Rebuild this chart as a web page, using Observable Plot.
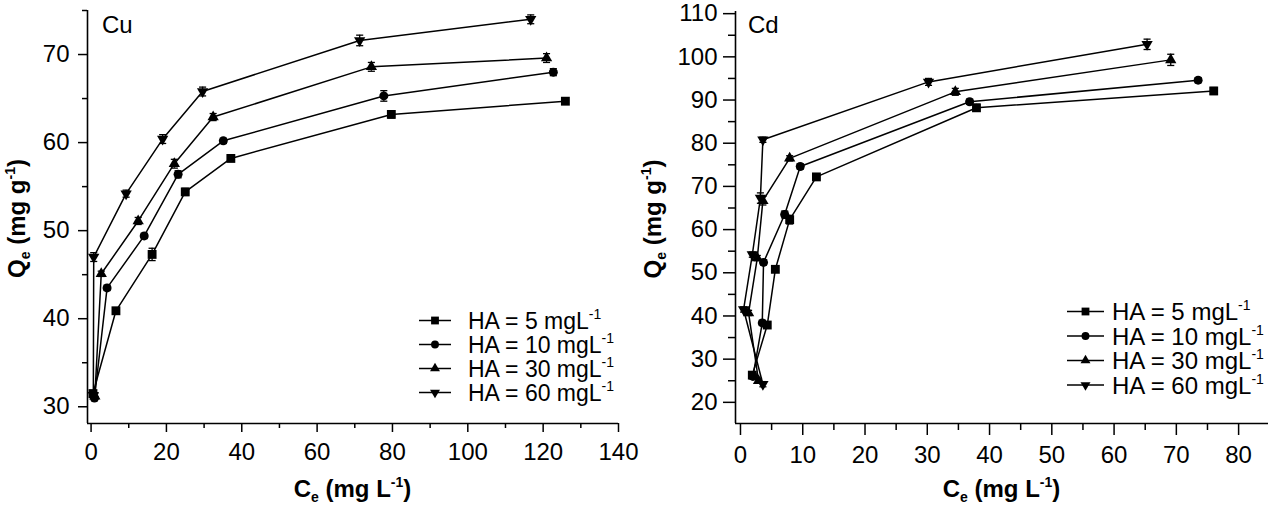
<!DOCTYPE html>
<html>
<head>
<meta charset="utf-8">
<script src="https://cdn.jsdelivr.net/npm/d3@7"></script>
<script src="https://cdn.jsdelivr.net/npm/@observablehq/plot@0.6"></script>
<style>
  html, body { margin: 0; padding: 0; background: #fff; }
  #wrap { position: relative; width: 1269px; height: 507px; overflow: hidden; background: #fff; }
  #wrap > div { position: absolute; top: 0; }
</style>
</head>
<body>
<div id="wrap"><div id="left" style="left:0px"></div><div id="right" style="left:640px"></div></div>
<script>
// ---------------- DATA ----------------
const haLevels = [5, 10, 30, 60];
const legendLabels = ["HA = 5 mgL", "HA = 10 mgL", "HA = 30 mgL", "HA = 60 mgL"];

// Cu panel
const cuCe5  = [0.5, 6.6, 16.2, 25.0, 37.1, 79.7, 125.9];
const cuQe5  = [31.5, 40.9, 47.3, 54.4, 58.2, 63.2, 64.7];
const cuErr5 = [0.3, 0.3, 0.7, 0.4, 0.3, 0.4, 0.3];
const cuCe10  = [0.9, 4.25, 14.1, 23.1, 35.1, 77.7, 122.7];
const cuQe10  = [31.0, 43.5, 49.4, 56.4, 60.2, 65.3, 68.0];
const cuErr10 = [0.3, 0.3, 0.3, 0.4, 0.3, 0.6, 0.4];
const cuCe30  = [1.0, 2.7, 12.5, 22.1, 32.4, 74.4, 120.9];
const cuQe30  = [31.2, 45.1, 51.1, 57.6, 62.9, 68.6, 69.6];
const cuErr30 = [0.3, 0.3, 0.4, 0.5, 0.4, 0.5, 0.5];
const cuCe60  = [0.6, 0.7, 9.3, 19.0, 29.6, 71.3, 116.7];
const cuQe60  = [31.3, 47.0, 54.2, 60.4, 65.8, 71.6, 74.0];
const cuErr60 = [0.3, 0.5, 0.4, 0.5, 0.5, 0.6, 0.5];

// Cd panel
const cdCe5  = [1.9, 4.3, 5.6, 7.9, 12.2, 37.9, 76.0];
const cdQe5  = [26.3, 37.9, 50.8, 62.3, 72.2, 88.2, 92.1];
const cdErr5 = [0.6, 0.6, 0.6, 1.0, 0.6, 0.8, 0.8];
const cdCe10  = [2.0, 3.5, 3.7, 7.1, 9.6, 36.8, 73.5];
const cdQe10  = [26.0, 38.4, 52.4, 63.5, 74.6, 89.6, 94.6];
const cdErr10 = [0.6, 0.6, 0.6, 0.8, 0.6, 0.6, 0.6];
const cdCe30  = [2.9, 1.3, 2.7, 3.6, 7.9, 34.5, 69.1];
const cdQe30  = [25.0, 40.7, 53.4, 66.7, 76.5, 91.9, 99.3];
const cdErr30 = [0.6, 0.6, 0.6, 1.0, 0.6, 0.8, 1.3];
const cdCe60  = [3.6, 0.5, 1.9, 3.2, 3.6, 30.2, 65.3];
const cdQe60  = [24.2, 41.5, 54.2, 67.3, 80.8, 94.2, 102.9];
const cdErr60 = [0.6, 0.6, 0.6, 1.2, 0.6, 0.8, 1.2];

// axis ticks
const cuXTicks = [0, 20, 40, 60, 80, 100, 120, 140];
const cuXMinor = [10, 30, 50, 70, 90, 110, 130];
const cuYTicks = [30, 40, 50, 60, 70];
const cuYMinor = [35, 45, 55, 65, 75];
const cdXTicks = [0, 10, 20, 30, 40, 50, 60, 70, 80];
const cdXMinor = [5, 15, 25, 35, 45, 55, 65, 75];
const cdYTicks = [20, 30, 40, 50, 60, 70, 80, 90, 100, 110];
const cdYMinor = [25, 35, 45, 55, 65, 75, 85, 95, 105];

// ---------------- HELPERS ----------------
const sqrt3 = Math.sqrt(3);
const triangleDown = {
  draw(ctx, size) {
    const y = -Math.sqrt(size / (sqrt3 * 3));
    ctx.moveTo(0, -y * 2);
    ctx.lineTo(-sqrt3 * y, y);
    ctx.lineTo(sqrt3 * y, y);
    ctx.closePath();
  }
};
const capSymbol = {
  draw(ctx, size) {
    const w = Math.sqrt(size) / 2;
    ctx.moveTo(-w, 0);
    ctx.lineTo(w, 0);
  }
};
const symbolRange = [d3.symbolSquare, d3.symbolCircle, d3.symbolTriangle, triangleDown];
const markerR = {"5": 5.0, "10": 4.5, "30": 4.2, "60": 4.2};

function buildRows(ceLists, qeLists, errLists) {
  const rows = [];
  haLevels.forEach((ha, i) => {
    ceLists[i].forEach((ce, j) => {
      rows.push({ha: String(ha), ce, qe: qeLists[i][j], err: errLists[i][j]});
    });
  });
  return rows;
}

function richText(parent, x, y, parts, attrs) {
  const t = parent.append("text").attr("x", x).attr("y", y);
  for (const k in attrs) t.attr(k, attrs[k]);
  let cur = 0;
  for (const p of parts) {
    const shift = p.shift || 0;
    const ts = t.append("tspan").attr("dy", shift - cur).text(p.t);
    if (p.size) ts.attr("font-size", p.size);
    cur = shift;
  }
  return t;
}

const FONT = "'Liberation Sans', Arial, Helvetica, sans-serif";
const FS = 24;

function panel(opts) {
  const rows = buildRows(opts.ce, opts.qe, opts.err);
  const plot = Plot.plot({
    width: opts.width,
    height: 507,
    marginLeft: opts.marginLeft,
    marginRight: opts.marginRight,
    marginTop: opts.marginTop,
    marginBottom: 84,
    style: {fontFamily: FONT, fontSize: FS + "px", color: "black", background: "white", overflow: "visible"},
    x: {domain: opts.xDomain},
    y: {domain: opts.yDomain},
    r: {type: "identity"},
    symbol: {domain: haLevels.map(String), range: symbolRange},
    marks: [
      Plot.axisX(opts.xMinor, {tickSize: opts.minorSize, strokeWidth: 1.5, tickFormat: () => "", label: null}),
      Plot.axisX(opts.xTicks, {tickSize: opts.majorSize, strokeWidth: 1.5, tickPadding: 10, fontSize: FS, label: null}),
      Plot.axisY(opts.yMinor, {tickSize: opts.minorSize, strokeWidth: 1.5, tickFormat: () => "", label: null}),
      Plot.axisY(opts.yTicks, {tickSize: opts.majorSize, strokeWidth: 1.5, tickPadding: opts.yPad, fontSize: FS, label: null}),
      Plot.ruleX([opts.xDomain[0]], {strokeWidth: 1.6}),
      Plot.ruleY([opts.yDomain[0]], {strokeWidth: 1.6}),
      Plot.line(rows, {x: "ce", y: "qe", z: "ha", stroke: "black", strokeWidth: 1.5}),
      Plot.ruleX(rows, {x: "ce", y1: d => d.qe - d.err, y2: d => d.qe + d.err, stroke: "black", strokeWidth: 1.3}),
      Plot.dot(rows, {x: "ce", y: d => d.qe + d.err, symbol: () => capSymbol, r: () => 4, stroke: "black", strokeWidth: 1.3, fill: "none"}),
      Plot.dot(rows, {x: "ce", y: d => d.qe - d.err, symbol: () => capSymbol, r: () => 4, stroke: "black", strokeWidth: 1.3, fill: "none"}),
      Plot.dot(rows, {x: "ce", y: "qe", symbol: "ha", r: d => markerR[d.ha], fill: "black", stroke: "none"})
    ]
  });
  const svg = d3.select(plot);
  svg.style("overflow", "visible");
  const xs = plot.scale("x").range, ys = plot.scale("y").range;
  const cx = (xs[0] + xs[1]) / 2, cy = (ys[0] + ys[1]) / 2;
  const g = svg.append("g").attr("font-family", FONT).attr("fill", "black").attr("text-anchor", "start");

  // panel label
  g.append("text").attr("x", xs[0] + opts.tagDx).attr("y", 33).attr("font-size", FS).attr("text-anchor", "start").text(opts.tag);

  // x title
  richText(g, cx, 497, [
    {t: "C"}, {t: "e", size: 14, shift: 5}, {t: " (mg L", shift: 0}, {t: "-1", size: 14, shift: -10}, {t: ")", shift: 0}
  ], {"font-size": FS, "font-weight": "bold", "text-anchor": "middle"});

  // y title
  const yt = g.append("g").attr("transform", `translate(${opts.yTitleX},${cy + 2}) rotate(-90)`);
  richText(yt, 0, 0, [
    {t: "Q"}, {t: "e", size: 14, shift: 5}, {t: " (mg g", shift: 0}, {t: "-1", size: 14, shift: -10}, {t: ")", shift: 0}
  ], {"font-size": FS, "font-weight": "bold", "text-anchor": "middle"});

  // legend
  const lg = g.append("g");
  legendLabels.forEach((lab, i) => {
    const y = opts.legY + i * opts.legDy;
    const rr = markerR[String(haLevels[i])] * 0.88;
    lg.append("line").attr("x1", opts.legX1).attr("x2", opts.legX2).attr("y1", y).attr("y2", y)
      .attr("stroke", "black").attr("stroke-width", 1.5);
    lg.append("path").attr("transform", `translate(${(opts.legX1 + opts.legX2) / 2},${y})`)
      .attr("d", d3.symbol(symbolRange[i], rr * rr * Math.PI)()).attr("fill", "black");
    richText(lg, opts.legTx, y + opts.legFs * 0.355, [
      {t: lab}, {t: "-1", size: 14, shift: -10}
    ], {"font-size": opts.legFs, "text-anchor": "start"});
  });
  return plot;
}

const left = panel({
  width: 640, marginLeft: 87, marginRight: 22, marginTop: 10,
  xDomain: [-0.95, 140], yDomain: [28.1, 75],
  xTicks: cuXTicks, xMinor: cuXMinor, yTicks: cuYTicks, yMinor: cuYMinor,
  majorSize: 9, minorSize: 5, yPad: 9,
  ce: [cuCe5, cuCe10, cuCe30, cuCe60], qe: [cuQe5, cuQe10, cuQe30, cuQe60], err: [cuErr5, cuErr10, cuErr30, cuErr60],
  tag: "Cu", tagDx: 15, yTitleX: 25,
  legX1: 419, legX2: 451, legTx: 468, legY: 320.5, legDy: 24, legFs: 23
});
document.getElementById("left").appendChild(left);

const right = panel({
  width: 629, marginLeft: 95, marginRight: 1, marginTop: 11,
  xDomain: [-0.8, 84.8], yDomain: [15.1, 110.5],
  xTicks: cdXTicks, xMinor: cdXMinor, yTicks: cdYTicks, yMinor: cdYMinor,
  majorSize: 12, minorSize: 7, yPad: 6,
  ce: [cdCe5, cdCe10, cdCe30, cdCe60], qe: [cdQe5, cdQe10, cdQe30, cdQe60], err: [cdErr5, cdErr10, cdErr30, cdErr60],
  tag: "Cd", tagDx: 13, yTitleX: 21,
  legX1: 427, legX2: 464, legTx: 472, legY: 311.5, legDy: 24.5, legFs: 24
});
document.getElementById("right").appendChild(right);
</script>
</body>
</html>
